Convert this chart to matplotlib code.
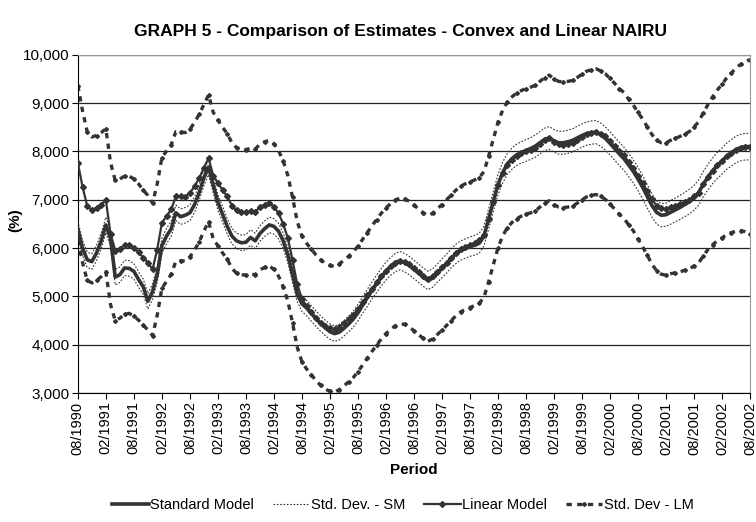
import matplotlib
matplotlib.use("Agg")
import matplotlib.pyplot as plt
import numpy as np

plt.rcParams['font.family'] = ['Liberation Sans', 'DejaVu Sans']

# monthly periods, 08/1990 .. 08/2002
periods = []
for y in range(1990, 2003):
    for mth in range(1, 13):
        if (y == 1990 and mth < 8) or (y == 2002 and mth > 8):
            continue
        periods.append(f"{mth:02d}/{y}")

standard_model = [
    6390, 6000, 5760, 5720, 5900, 6150, 6480, 6200, 5400, 5450,
    5590, 5580, 5520, 5350, 5200, 4900, 5100, 5450, 6050, 6250,
    6400, 6730, 6650, 6680, 6730, 6900, 7150, 7450, 7680, 7300,
    6950, 6700, 6450, 6250, 6150, 6110, 6120, 6220, 6150, 6300,
    6400, 6480, 6450, 6350, 6150, 5850, 5450, 5050, 4850, 4760,
    4650, 4540, 4440, 4350, 4270, 4230, 4260, 4340, 4430, 4530,
    4660, 4820, 4970, 5120, 5260, 5400, 5520, 5620, 5700, 5740,
    5700, 5640, 5560, 5480, 5400, 5330, 5380, 5480, 5580, 5680,
    5790, 5880, 5950, 5990, 6030, 6060, 6100, 6250, 6600, 6960,
    7310, 7560, 7740, 7850, 7930, 7980, 8020, 8060, 8110, 8180,
    8250, 8280, 8220, 8180, 8180, 8200, 8230, 8280, 8330, 8370,
    8390, 8400, 8350, 8270, 8170, 8060, 7950, 7850, 7720, 7590,
    7430, 7260, 7070, 6880, 6740, 6680, 6690, 6740, 6790, 6840,
    6900, 6960, 7040, 7150, 7320, 7470, 7600, 7710, 7800, 7900,
    7970, 8040, 8080, 8100, 8100,
]

sd_sm = [
    160, 160, 160, 160, 160, 160, 160, 160, 160, 160,
    160, 160, 160, 160, 160, 160, 160, 160, 160, 160,
    160, 160, 160, 160, 160, 160, 160, 160, 160, 160,
    160, 160, 160, 160, 160, 160, 160, 160, 160, 160,
    160, 160, 160, 160, 160, 160, 160, 160, 160, 160,
    160, 160, 160, 160, 160, 160, 160, 160, 165, 165,
    170, 170, 175, 175, 180, 180, 185, 185, 190, 190,
    190, 190, 190, 190, 190, 190, 190, 190, 195, 195,
    195, 200, 200, 200, 200, 205, 205, 205, 210, 210,
    210, 215, 215, 220, 220, 220, 225, 225, 230, 230,
    230, 235, 235, 235, 240, 240, 240, 240, 240, 240,
    240, 240, 240, 240, 240, 240, 240, 240, 240, 240,
    240, 240, 240, 240, 240, 240, 240, 245, 245, 250,
    250, 255, 255, 260, 260, 265, 265, 270, 270, 270,
    275, 275, 275, 275, 275,
]

linear_model = [
    7760, 7270, 6870, 6790, 6830, 6900, 6990, 6300, 5950, 5990,
    6060, 6070, 6010, 5920, 5800, 5700, 5560, 5970, 6520, 6660,
    6800, 7070, 7070, 7060, 7140, 7280, 7450, 7660, 7860, 7500,
    7350, 7200, 7070, 6880, 6780, 6750, 6740, 6760, 6750, 6850,
    6900, 6930, 6860, 6720, 6500, 6200, 5750, 5250, 4950, 4800,
    4680, 4560, 4460, 4380, 4340, 4320, 4370, 4450, 4530, 4620,
    4740, 4880, 5020, 5160, 5290, 5420, 5530, 5620, 5690, 5740,
    5720, 5670, 5590, 5510, 5430, 5370, 5420, 5510, 5600, 5700,
    5800, 5900, 5980, 6030, 6070, 6110, 6160, 6280, 6600, 6950,
    7300, 7550, 7720, 7830, 7910, 7960, 8000, 8030, 8070, 8150,
    8230, 8280, 8200, 8150, 8140, 8150, 8170, 8230, 8300, 8360,
    8390, 8410, 8370, 8310, 8210, 8110, 8000, 7920, 7780, 7660,
    7500, 7350, 7180, 7010, 6880, 6820, 6810, 6850, 6880, 6910,
    6950, 6990, 7070, 7150, 7320, 7470, 7600, 7710, 7800, 7900,
    7970, 8040, 8080, 8100, 8100,
]

sd_lm = [
    1600, 1570, 1540, 1510, 1500, 1490, 1480, 1470, 1450, 1440,
    1430, 1420, 1420, 1410, 1400, 1390, 1370, 1360, 1350, 1350,
    1340, 1340, 1330, 1330, 1320, 1320, 1320, 1310, 1310, 1310,
    1300, 1300, 1300, 1300, 1300, 1300, 1300, 1300, 1300, 1300,
    1300, 1300, 1300, 1300, 1300, 1300, 1300, 1300, 1300, 1300,
    1300, 1300, 1300, 1300, 1300, 1300, 1300, 1300, 1300, 1300,
    1300, 1300, 1300, 1300, 1300, 1300, 1300, 1300, 1300, 1300,
    1300, 1300, 1300, 1300, 1300, 1300, 1300, 1300, 1300, 1300,
    1300, 1300, 1300, 1300, 1300, 1300, 1300, 1300, 1300, 1300,
    1300, 1300, 1300, 1300, 1300, 1300, 1300, 1300, 1300, 1300,
    1300, 1300, 1300, 1300, 1300, 1300, 1300, 1300, 1300, 1300,
    1300, 1300, 1300, 1300, 1300, 1300, 1300, 1300, 1300, 1300,
    1310, 1320, 1330, 1340, 1350, 1360, 1370, 1380, 1390, 1400,
    1410, 1420, 1440, 1460, 1480, 1500, 1530, 1560, 1590, 1620,
    1650, 1690, 1720, 1760, 1800,
]

sm = np.array(standard_model)
lm = np.array(linear_model)
x = np.arange(len(periods))
c = '#333333'

fig = plt.figure(figsize=(7.56, 5.22), dpi=100)
ax = fig.add_axes([0.103, 0.247, 0.889, 0.648])

ax.plot(x, sm, color=c, lw=2.6, label='Standard Model', zorder=4)
ax.plot(x, sm + np.array(sd_sm), color=c, lw=0.8, ls=(0, (1.5, 1.5)),
        label='Std. Dev. - SM', zorder=3)
ax.plot(x, sm - np.array(sd_sm), color=c, lw=0.8, ls=(0, (1.5, 1.5)), zorder=3)
ax.plot(x, lm, color=c, lw=1.6, marker='D', ms=3, label='Linear Model', zorder=5)
ax.plot(x, lm + np.array(sd_lm), color=c, lw=2.4, ls=(0, (1.6, 1.6)),
        marker='D', ms=2, markevery=2, label='Std. Dev - LM', zorder=2)
ax.plot(x, lm - np.array(sd_lm), color=c, lw=2.4, ls=(0, (1.6, 1.6)),
        marker='D', ms=2, markevery=2, zorder=2)

ax.set_xlim(0, len(periods) - 1)
ax.set_ylim(3000, 10000)
ax.set_yticks(range(3000, 10001, 1000))
ax.set_yticklabels([f"{v:,}" for v in range(3000, 10001, 1000)], fontsize=11)
ticks = x[::6]
ax.set_xticks(ticks)
ax.set_xticklabels([periods[i] for i in ticks], rotation=90, fontsize=10.5)
ax.grid(axis='y', color='#222222', lw=0.9)
ax.set_axisbelow(True)
for s in ['top', 'right']:
    ax.spines[s].set_color('#999999')
for s in ['left', 'bottom']:
    ax.spines[s].set_color('black')
ax.tick_params(length=4, color='black', pad=2)

ax.set_ylabel('(%)', fontsize=11, fontweight='bold')
ax.yaxis.set_label_coords(-0.083, 0.51)
ax.set_xlabel('Period', fontsize=11, fontweight='bold', labelpad=6)
fig.text(0.53, 0.94, 'GRAPH 5 - Comparison of Estimates - Convex and Linear NAIRU',
         ha='center', va='center', fontsize=12.5, fontweight='bold')

fig.legend(loc='center', bbox_to_anchor=(0.533, 0.032), ncol=4, frameon=False,
           fontsize=10.5, handlelength=2.5, handletextpad=0.1, columnspacing=1.3)

fig.savefig('out.png', dpi=100)
